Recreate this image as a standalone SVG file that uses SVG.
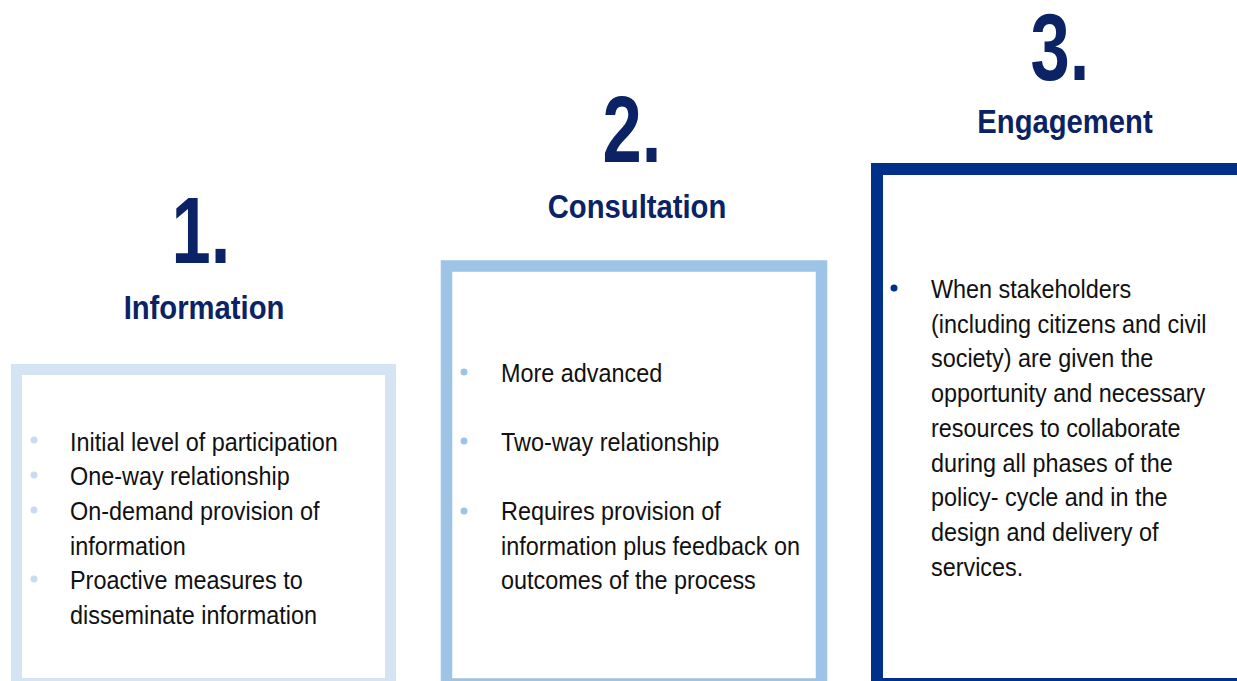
<svg xmlns="http://www.w3.org/2000/svg" width="1237" height="681" viewBox="0 0 1237 681">
  <style>
    .num { font-family: "Liberation Sans", Arial, sans-serif; font-weight: bold; font-size: 94px; fill: #0B2265; text-anchor: middle; }
    .head { font-family: "Liberation Sans", Arial, sans-serif; font-weight: bold; font-size: 34px; fill: #0B2265; text-anchor: middle; }
    .body { font-family: "Liberation Sans", Arial, sans-serif; font-size: 26px; fill: #111111; }
    .frame { fill: #FFFFFF; }
  </style>
  <rect width="1237" height="681" fill="#FFFFFF"/>

  <!-- Level 1: Information -->
  <g id="level-information">
    <rect class="frame" x="16.5" y="369.5" width="374" height="314" stroke="#D4E4F3" stroke-width="11"/>
    <text class="num" transform="translate(201 263) scale(0.75 1)">1.</text>
    <text class="head" transform="translate(204 319) scale(0.86 1)">Information</text>
    <g fill="#C9DCEF">
      <circle cx="34" cy="440" r="3.5"/>
      <circle cx="34" cy="475" r="3.5"/>
      <circle cx="34" cy="510" r="3.5"/>
      <circle cx="34" cy="579" r="3.5"/>
    </g>
    <g class="body" transform="translate(70 0) scale(0.9 1)">
      <text x="0" y="451">Initial level of participation</text>
      <text x="0" y="485.5">One-way relationship</text>
      <text x="0" y="520">On-demand provision of</text>
      <text x="0" y="555">information</text>
      <text x="0" y="589.5">Proactive measures to</text>
      <text x="0" y="624">disseminate information</text>
    </g>
  </g>

  <!-- Level 2: Consultation -->
  <g id="level-consultation">
    <rect class="frame" x="446.5" y="266" width="375" height="418" stroke="#9DC3E6" stroke-width="11.5"/>
    <text class="num" transform="translate(632 162) scale(0.75 1)">2.</text>
    <text class="head" transform="translate(637 218) scale(0.86 1)">Consultation</text>
    <g fill="#9DC3E6">
      <circle cx="464" cy="372" r="3.5"/>
      <circle cx="464" cy="441" r="3.5"/>
      <circle cx="464" cy="511" r="3.5"/>
    </g>
    <g class="body" transform="translate(501 0) scale(0.9 1)">
      <text x="0" y="382">More advanced</text>
      <text x="0" y="451">Two-way relationship</text>
      <text x="0" y="520.5">Requires provision of</text>
      <text x="0" y="555">information plus feedback on</text>
      <text x="0" y="589.5">outcomes of the process</text>
    </g>
  </g>

  <!-- Level 3: Engagement -->
  <g id="level-engagement">
    <rect class="frame" x="877" y="169" width="400" height="515" stroke="#00318A" stroke-width="12"/>
    <text class="num" transform="translate(1060 80) scale(0.75 1)">3.</text>
    <text class="head" transform="translate(1065 133) scale(0.86 1)">Engagement</text>
    <circle cx="894" cy="288" r="3.5" fill="#00318A"/>
    <g class="body" transform="translate(931 0) scale(0.9 1)">
      <text x="0" y="298">When stakeholders</text>
      <text x="0" y="332.75">(including citizens and civil</text>
      <text x="0" y="367.5">society) are given the</text>
      <text x="0" y="402.25">opportunity and necessary</text>
      <text x="0" y="437">resources to collaborate</text>
      <text x="0" y="471.75">during all phases of the</text>
      <text x="0" y="506.5">policy- cycle and in the</text>
      <text x="0" y="541.25">design and delivery of</text>
      <text x="0" y="576">services.</text>
    </g>
  </g>

  <!-- no connectors in this figure -->
  <g id="connectors"/>
</svg>
